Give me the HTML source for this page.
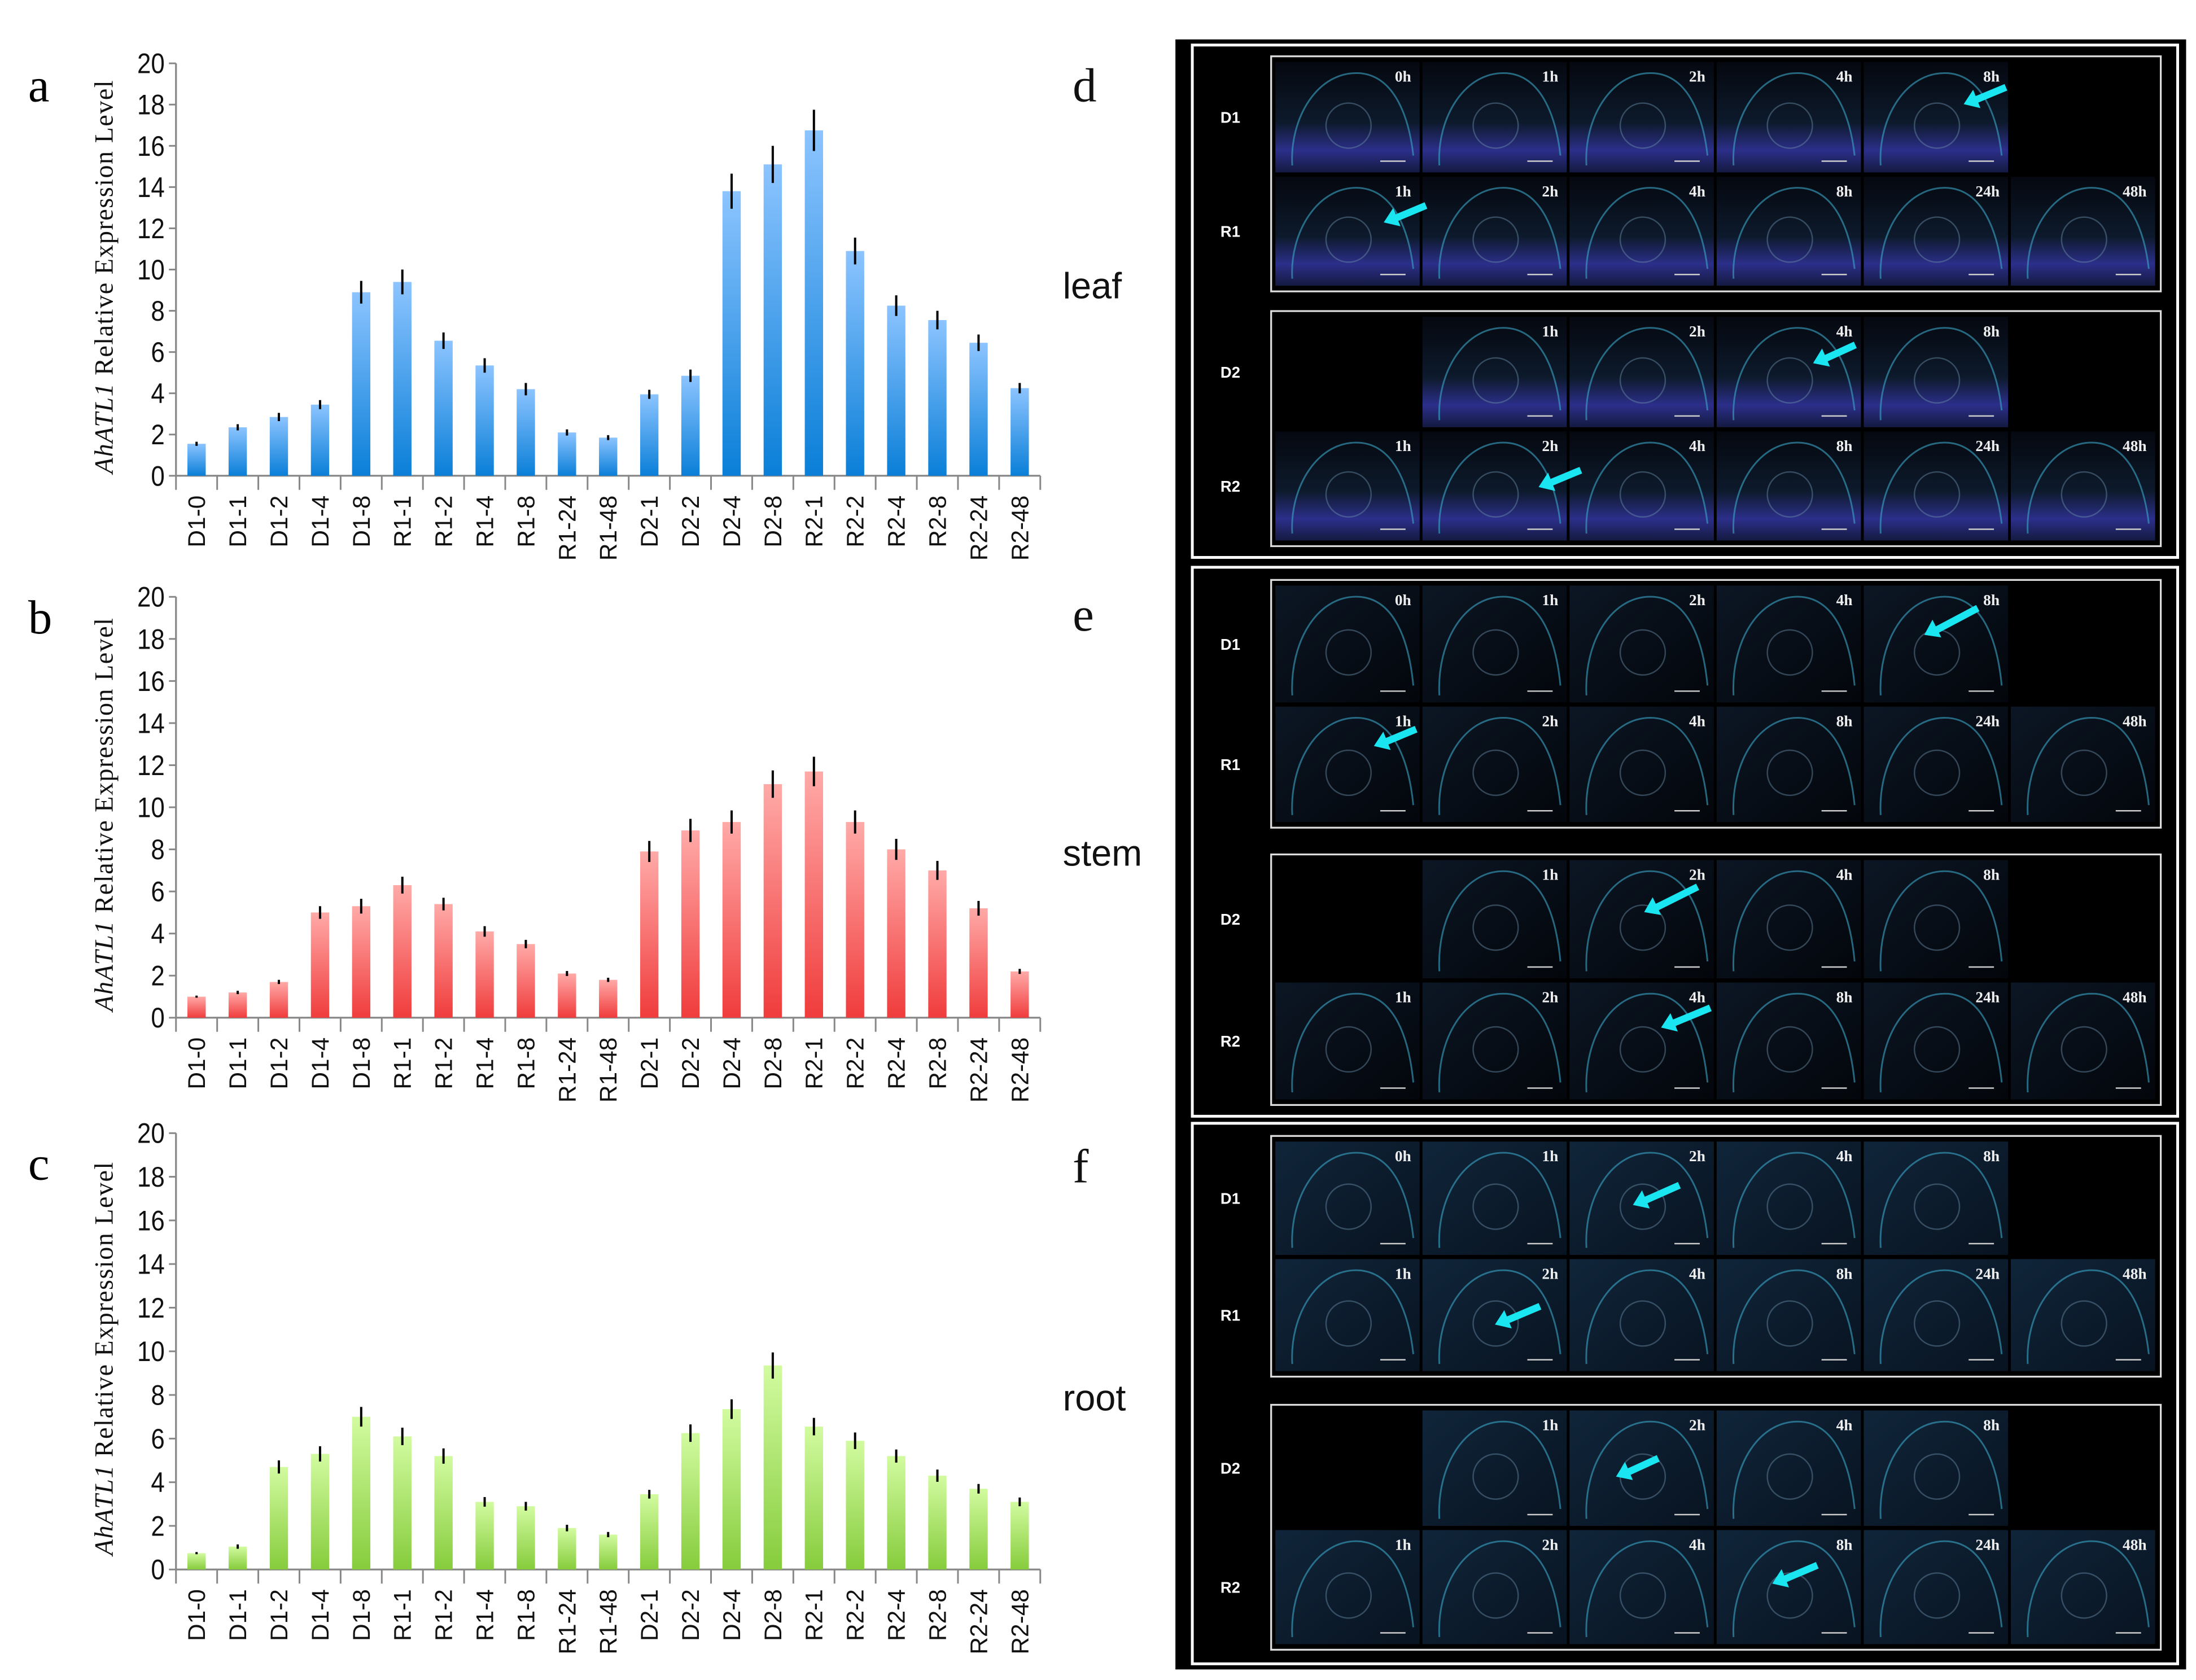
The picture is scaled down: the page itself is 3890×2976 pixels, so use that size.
<!DOCTYPE html>
<html><head><meta charset="utf-8"><style>
html,body{margin:0;padding:0;background:#fff;}
svg{display:block;}
</style></head><body>
<svg id="fig" xmlns="http://www.w3.org/2000/svg" width="3890" height="2976" viewBox="0 0 1560 1193.5">
<defs>
<linearGradient id="gBlue" x1="0" y1="0" x2="0" y2="1"><stop offset="0" stop-color="#8cc4ff"/><stop offset="1" stop-color="#0a7fd8"/></linearGradient>
<linearGradient id="gRed" x1="0" y1="0" x2="0" y2="1"><stop offset="0" stop-color="#ffaaa8"/><stop offset="1" stop-color="#f03c3c"/></linearGradient>
<linearGradient id="gGreen" x1="0" y1="0" x2="0" y2="1"><stop offset="0" stop-color="#d2fba0"/><stop offset="1" stop-color="#86cc3c"/></linearGradient>
<linearGradient id="gLeaf" x1="0" y1="0" x2="0" y2="1"><stop offset="0" stop-color="#05080f"/><stop offset="0.55" stop-color="#0d1a2c"/><stop offset="0.8" stop-color="#2c2f8a"/><stop offset="1" stop-color="#141a40"/></linearGradient>
<linearGradient id="gStem" x1="0" y1="0" x2="1" y2="1"><stop offset="0" stop-color="#0c1624"/><stop offset="1" stop-color="#03060b"/></linearGradient>
<linearGradient id="gRoot" x1="0" y1="0" x2="1" y2="1"><stop offset="0" stop-color="#10253a"/><stop offset="1" stop-color="#081320"/></linearGradient>
</defs>
<g id="charts"></g>
<g id="micro"></g>
</svg>
<script>
const categories = ["D1-0","D1-1","D1-2","D1-4","D1-8","R1-1","R1-2","R1-4","R1-8","R1-24","R1-48","D2-1","D2-2","D2-4","D2-8","R2-1","R2-2","R2-4","R2-8","R2-24","R2-48"];
const yTicks = [0,2,4,6,8,10,12,14,16,18,20];
const leafValues = [1.55,2.35,2.85,3.45,8.9,9.4,6.55,5.35,4.2,2.1,1.85,3.95,4.85,13.8,15.1,16.75,10.9,8.25,7.55,6.45,4.25];
const leafErrors = [0.1,0.15,0.2,0.22,0.55,0.6,0.4,0.35,0.3,0.15,0.12,0.22,0.3,0.85,0.9,1.0,0.65,0.5,0.45,0.4,0.25];
const stemValues = [1.0,1.2,1.7,5.0,5.3,6.3,5.4,4.1,3.5,2.1,1.8,7.9,8.9,9.3,11.1,11.7,9.3,8.0,7.0,5.2,2.2];
const stemErrors = [0.05,0.08,0.1,0.3,0.35,0.4,0.3,0.25,0.2,0.12,0.1,0.5,0.55,0.55,0.65,0.7,0.55,0.5,0.45,0.35,0.12];
const rootValues = [0.75,1.05,4.7,5.3,7.0,6.1,5.2,3.1,2.9,1.9,1.6,3.45,6.25,7.35,9.35,6.55,5.9,5.2,4.3,3.7,3.1];
const rootErrors = [0.05,0.1,0.3,0.35,0.45,0.4,0.35,0.22,0.2,0.15,0.12,0.2,0.4,0.45,0.6,0.4,0.38,0.3,0.28,0.22,0.2];
const rowLabels = ["D1","R1","D2","R2"];
const timesD1 = ["0h","1h","2h","4h","8h"];
const timesR = ["1h","2h","4h","8h","24h","48h"];
const timesD2 = ["1h","2h","4h","8h"];

const NS="http://www.w3.org/2000/svg";
function mk(tag,attrs,parent,text){const e=document.createElementNS(NS,tag);for(const k in attrs)e.setAttribute(k,attrs[k]);if(text!==undefined)e.textContent=text;parent.appendChild(e);return e;}
const charts=document.getElementById('charts');

const panels=[
 {letter:"a",values:leafValues,errors:leafErrors,fill:"url(#gBlue)",y0:338,y20:45,ly:72},
 {letter:"b",values:stemValues,errors:stemErrors,fill:"url(#gRed)",y0:723,y20:424,ly:450},
 {letter:"c",values:rootValues,errors:rootErrors,fill:"url(#gGreen)",y0:1115,y20:805,ly:838}
];
const xL=125,xR=739;
panels.forEach(p=>{
 const g=mk('g',{},charts);
 
 
 const yS=v=>p.y0-(v/20)*(p.y0-p.y20);
 const bw=(xR-xL)/categories.length;
 const xC=i=>xL+bw*(i+0.5);
 const lt=mk('text',{x:20,y:p.ly,'font-family':'Liberation Serif, serif','font-size':34},g,p.letter);
 
 
 const ya=mk('line',{x1:xL,y1:p.y20,x2:xL,y2:p.y0,stroke:'#888','stroke-width':1.3},g);
 
 
 yTicks.forEach(t=>{
  mk('line',{x1:xL-5,y1:yS(t),x2:xL,y2:yS(t),stroke:'#888','stroke-width':1.2},g);
  const tx=mk('text',{x:xL-8,y:yS(t)+7,'text-anchor':'end','font-family':'Liberation Sans Narrow, Liberation Sans, sans-serif','font-size':20,fill:'#111',transform:`translate(${(xL-8)*0.12},0) scale(0.88,1)`},g,String(t));
  
  
 });
 const xa=mk('line',{x1:xL,y1:p.y0,x2:xR,y2:p.y0,stroke:'#888','stroke-width':1.3},g);
 
 
 for(let i=0;i<=categories.length;i++){mk('line',{x1:xL+bw*i,y1:p.y0,x2:xL+bw*i,y2:p.y0+10,stroke:'#888','stroke-width':1.2},g);}
 const yt=mk('text',{transform:`translate(80,${(p.y0+p.y20)/2+5}) rotate(-90)`,'text-anchor':'middle','font-family':'Liberation Serif, serif','font-size':18.5,fill:'#111','letter-spacing':'0.6'},g);
 
 
 mk('tspan',{'font-style':'italic'},yt,'AhATL1');
 mk('tspan',{},yt,' Relative Expression Level');
 categories.forEach((c,i)=>{
  const v=p.values[i],e=p.errors[i];
  const bar=mk('rect',{x:xC(i)-6.5,y:yS(v),width:13,height:p.y0-yS(v),fill:p.fill},g);
  
  
  const eb=mk('line',{x1:xC(i),y1:yS(v+e),x2:xC(i),y2:yS(v-e),stroke:'#000','stroke-width':1.6},g);
  
  
  const lbl=mk('text',{transform:`translate(${xC(i)+6},${p.y0+14}) rotate(-90)`,'text-anchor':'end','font-family':'Liberation Sans, sans-serif','font-size':17,fill:'#111'},g,c);
  
  
 });
});

const micro=document.getElementById('micro');
const bg=mk('rect',{x:835,y:28,width:718,height:1158,fill:'#000'},micro);


const tissues=[
 {letter:"d",name:"leaf",top:32,bot:396,fill:"url(#gLeaf)",ly:72,nameY:212,frames:[[40,207],[221,388]]},
 {letter:"e",name:"stem",top:403,bot:793,fill:"url(#gStem)",ly:448,nameY:615,frames:[[412,588],[607,785]]},
 {letter:"f",name:"root",top:798,bot:1182,fill:"url(#gRoot)",ly:840,nameY:1002,frames:[[807,978],[998,1172]]}
];
const cw=104.5,cx0=906;
tissues.forEach(t=>{
 const g=mk('g',{},micro);
 
 
 mk('rect',{x:847,y:t.top,width:700,height:t.bot-t.top,fill:'none',stroke:'#fff','stroke-width':2},g);
 const L=mk('text',{x:762,y:t.ly,'font-family':'Liberation Serif, serif','font-size':34,fill:'#111'},g,t.letter);
 
 
 const N=mk('text',{x:755,y:t.nameY,'font-family':'Liberation Sans, sans-serif','font-size':26,fill:'#111'},g,t.name);
 
 
 t.frames.forEach((f,fi)=>{
  mk('rect',{x:903,y:f[0],width:632,height:f[1]-f[0],fill:'none',stroke:'#ddd','stroke-width':1.3},g);
  const mid=(f[0]+f[1])/2;
  const rows=[[f[0]+4,mid-1],[mid+2,f[1]-4]];
  rows.forEach((r,ri)=>{
   const lab=rowLabels[fi*2+ri];
   const rl=mk('text',{x:867,y:(r[0]+r[1])/2+4,'font-family':'Liberation Sans, sans-serif','font-size':11,'font-weight':'bold',fill:'#fff'},g,lab);
   
   
   let times,start;
   if(lab==="D1"){times=timesD1;start=0;}else if(lab==="D2"){times=timesD2;start=1;}else{times=timesR;start=0;}
   times.forEach((tm,k)=>{
    const x=cx0+(start+k)*cw;
    const cell=mk('rect',{x:x,y:r[0],width:cw-2,height:r[1]-r[0],fill:t.fill},g);
    
    
    mk('path',{d:`M${x+12},${r[1]-5} C${x+10},${r[0]+40} ${x+30},${r[0]+6} ${x+60},${r[0]+8} C${x+85},${r[0]+10} ${x+95},${r[0]+40} ${x+98},${r[1]-12}`,fill:'none',stroke:'#3aa7c8','stroke-width':1.2,opacity:0.6},g);
    mk('circle',{cx:x+52,cy:(r[0]+r[1])/2+6,r:16,fill:'none',stroke:'#6a8fa8','stroke-width':1,opacity:0.45},g);
    mk('line',{x1:x+cw-30,y1:r[1]-8,x2:x+cw-12,y2:r[1]-8,stroke:'#ccc','stroke-width':1},g);
    const tl=mk('text',{x:x+cw-8,y:r[0]+14,'text-anchor':'end','font-family':'Liberation Serif, serif','font-size':11,'font-weight':'bold',fill:'#eee'},g,tm);
    
    
   });
  });
 });
});
const arrows=[[1425,62,1395,74],[1013,146,983,158],[1318,245,1288,258],[1123,334,1093,346],[1405,432,1367,451],[1006,518,976,530],[1206,630,1168,648],[1215,716,1180,730],[1193,842,1160,856],[1094,928,1062,941],[1178,1036,1148,1049],[1291,1112,1259,1125]];
arrows.forEach(a=>{
 const ar=mk('line',{x1:a[0],y1:a[1],x2:a[2]+6,y2:a[3]-2,stroke:'#19e6f0','stroke-width':5},micro);
 
 
 const dx=a[2]-a[0],dy=a[3]-a[1],l=Math.hypot(dx,dy),ux=dx/l,uy=dy/l;
 const bx=a[2]-ux*10,by=a[3]-uy*10;
 mk('polygon',{points:`${a[2]},${a[3]} ${bx-uy*7},${by+ux*7} ${bx+uy*7},${by-ux*7}`,fill:'#19e6f0'},micro);
});
</script>
</body></html>
